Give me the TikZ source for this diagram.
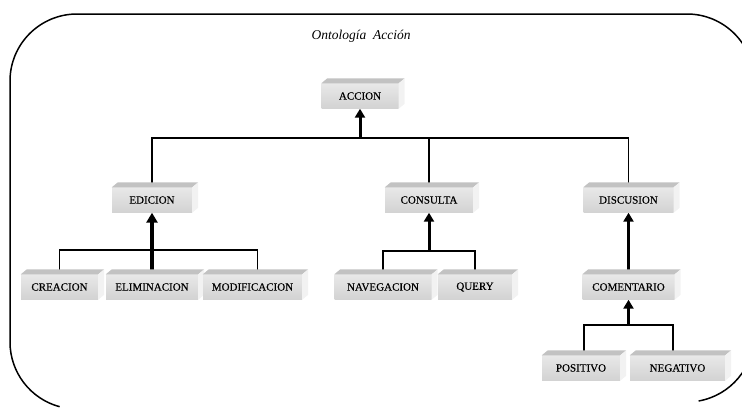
\documentclass[tikz,border=0pt]{standalone}
\usepackage{fontspec}
\setmainfont{Liberation Serif}
\newfontfamily\boxfont{Liberation Serif}[FakeBold=0.4]
\usetikzlibrary{arrows.meta,calc}
\pgfdeclarelayer{bg}
\pgfsetlayers{bg,main}
\tikzset{
 gnode/.style={minimum height=25pt, inner sep=0pt, top color=gray!18, middle color=gray!32, bottom color=gray!35, font=\boxfont\fontsize{11}{13}\selectfont},
 topface/.style={fill=gray!48},
 sideface/.style={fill=gray!10},
 thinline/.style={line width=1.4pt},
 thickarrow/.style={line width=3pt, -{Triangle[width=10pt,length=9pt]}},
 heavyarrow/.style={line width=4pt, -{Triangle[width=11pt,length=10pt]}},
 frame/.style={line width=1.5pt},
 titlefont/.style={font=\itshape\fontsize{13.5}{15}\selectfont}
}
\newcommand\gbox[4]{%
 \node[gnode, minimum width=#3] (#1) at (#2) {#4};
 \fill[topface] (#1.north west) -- ++(6,-5) -- ($(#1.north east)+(6,-5)$) -- (#1.north east) -- cycle;
 \fill[sideface] (#1.north east) -- ++(6,-5) -- ($(#1.south east)+(6,-5)$) -- (#1.south east) -- cycle;
}
\begin{document}
\begin{tikzpicture}[x=1pt,y=-1pt]
\useasboundingbox (0,0) rectangle (742,408);
\begin{scope}[x=1pt,y=1pt]
\clip (0,0) rectangle (742,-408);
\draw[frame] (77,-342) ++(255:67) arc[start angle=255,end angle=180,radius=67]
  -- (10,-81) arc[start angle=180,end angle=90,radius=67]
  -- (687,-14) arc[start angle=90,end angle=0,radius=67]
  -- (754,-335) arc[start angle=0,end angle=-80,radius=67];
\end{scope}
\node[titlefont] (title) at (361,36) {Ontología\ \ Acción};

\gbox{accion}{360,96}{77pt}{ACCION}
\gbox{edicion}{152,200}{80pt}{EDICION}
\gbox{consulta}{429,200}{88pt}{CONSULTA}
\gbox{discusion}{628.5,200}{90pt}{DISCUSION}
\gbox{creacion}{59.5,287}{77pt}{CREACION}
\gbox{eliminacion}{152,287}{92pt}{ELIMINACION}
\gbox{modificacion}{252.5,287}{99pt}{MODIFICACION}
\gbox{navegacion}{383,287}{97pt}{NAVEGACION}
\gbox{query}{475,287}{74pt}{QUERY}
\gbox{comentario}{628.5,287}{92pt}{COMENTARIO}
\gbox{positivo}{581,368}{78pt}{POSITIVO}
\gbox{negativo}{677.5,368}{95pt}{NEGATIVO}

\coordinate (bus1) at (360,138);
\coordinate (bus2) at (152,250);
\coordinate (bus3) at (429,251);
\coordinate (bus4) at (628.5,325);

\begin{pgfonlayer}{bg}
\draw[thinline] (edicion.north) -- (edicion.north |- bus1) -- (discusion.north |- bus1) -- (discusion.north);
\draw[thinline] (consulta.north |- bus1) -- (consulta.north);
\draw[thickarrow] (bus1) -- (accion.south);

\draw[thinline] (creacion.north) |- (bus2) -| ($(modificacion.north)+(5,0)$);
\draw[heavyarrow] (eliminacion.north) -- (edicion.south);

\draw[thinline] (navegacion.north) |- (bus3) -| (query.north);
\draw[thickarrow] (bus3) -- (consulta.south);

\draw[thickarrow] (comentario.north) -- (discusion.south);

\draw[thinline] ($(positivo.north)+(3,0)$) |- (bus4) -| ($(negativo.north)+(-4.5,0)$);
\draw[thickarrow] (bus4) -- (comentario.south);
\end{pgfonlayer}
\end{tikzpicture}
\end{document}
